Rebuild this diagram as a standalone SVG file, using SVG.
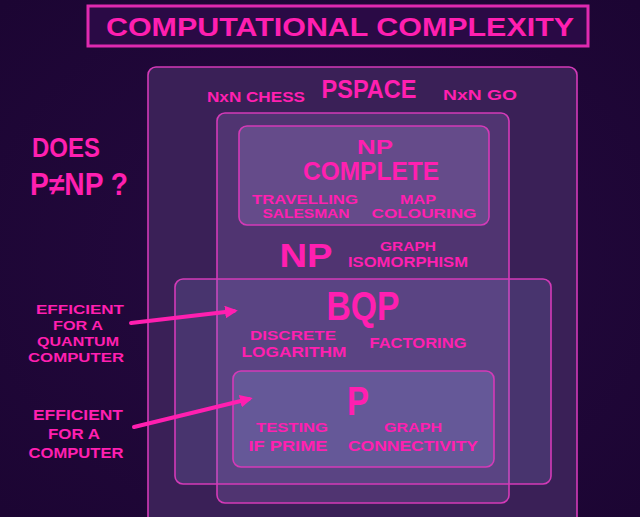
<svg xmlns="http://www.w3.org/2000/svg" width="640" height="517" viewBox="0 0 640 517">
<defs>
<style>
.t{font-family:"Liberation Sans","DejaVu Sans",sans-serif;font-weight:bold;fill:#ff1fb0;text-anchor:middle}
.box{stroke:#d43ab8;stroke-width:1.6}
.arrow{stroke:#ff1fb0;stroke-width:4;fill:none;stroke-linecap:round}
</style>
<marker id="ah" viewBox="0 0 10 10" refX="7" refY="5" markerWidth="3.2" markerHeight="3.2" orient="auto"><path d="M0,0 L10,5 L0,10 z" fill="#ff1fb0"/></marker>
<radialGradient id="bg" cx="0.5" cy="0.5" r="0.7"><stop offset="0" stop-color="#250a40"/><stop offset="1" stop-color="#1c0533"/></radialGradient>
</defs>
<rect width="640" height="517" fill="url(#bg)"/>

<g id="title">
<rect x="88" y="6" width="500" height="40" fill="#2a0a45" stroke="#e02ab0" stroke-width="3"/>
<text class="t" x="340" y="36" font-size="25" textLength="468" lengthAdjust="spacingAndGlyphs">COMPUTATIONAL COMPLEXITY</text>
</g>

<g id="pspace">
<rect class="box" x="148" y="67" width="429" height="470" rx="8" fill="#3a2057"/>
<text class="t" x="256" y="102" font-size="15" textLength="98" lengthAdjust="spacingAndGlyphs">NxN CHESS</text>
<text class="t" x="369" y="98" font-size="26" textLength="95" lengthAdjust="spacingAndGlyphs">PSPACE</text>
<text class="t" x="480" y="100" font-size="15" textLength="74" lengthAdjust="spacingAndGlyphs">NxN GO</text>
</g>

<g id="np">
<rect class="box" x="217" y="113" width="292" height="390" rx="8" fill="#aa88dd" fill-opacity="0.2"/>
<text class="t" x="306" y="267" font-size="33" textLength="53" lengthAdjust="spacingAndGlyphs">NP</text>
<text class="t" x="408" y="251" font-size="13" textLength="56" lengthAdjust="spacingAndGlyphs">GRAPH</text>
<text class="t" x="408" y="267" font-size="14" textLength="120" lengthAdjust="spacingAndGlyphs">ISOMORPHISM</text>
</g>

<g id="np-complete">
<rect class="box" x="239" y="126" width="250" height="99" rx="8" fill="#b8a8ee" fill-opacity="0.2"/>
<text class="t" x="375" y="154" font-size="20" textLength="36" lengthAdjust="spacingAndGlyphs">NP</text>
<text class="t" x="371" y="180" font-size="25" textLength="136" lengthAdjust="spacingAndGlyphs">COMPLETE</text>
<text class="t" x="305" y="204" font-size="12" textLength="106" lengthAdjust="spacingAndGlyphs">TRAVELLING</text>
<text class="t" x="306" y="218" font-size="12" textLength="87" lengthAdjust="spacingAndGlyphs">SALESMAN</text>
<text class="t" x="418" y="204" font-size="12" textLength="36" lengthAdjust="spacingAndGlyphs">MAP</text>
<text class="t" x="424" y="218" font-size="12" textLength="105" lengthAdjust="spacingAndGlyphs">COLOURING</text>
</g>

<g id="bqp">
<rect class="box" x="175" y="279" width="376" height="205" rx="8" fill="#8a90d8" fill-opacity="0.18"/>
<text class="t" x="363" y="320" font-size="40" textLength="73" lengthAdjust="spacingAndGlyphs">BQP</text>
<text class="t" x="293" y="340" font-size="13" textLength="86" lengthAdjust="spacingAndGlyphs">DISCRETE</text>
<text class="t" x="294" y="357" font-size="14" textLength="105" lengthAdjust="spacingAndGlyphs">LOGARITHM</text>
<text class="t" x="418" y="348" font-size="15" textLength="97" lengthAdjust="spacingAndGlyphs">FACTORING</text>
</g>

<g id="p">
<rect class="box" x="233" y="371" width="261" height="96" rx="8" fill="#90a8ee" fill-opacity="0.2"/>
<text class="t" x="358" y="415" font-size="40" textLength="22" lengthAdjust="spacingAndGlyphs">P</text>
<text class="t" x="292" y="432" font-size="13" textLength="72" lengthAdjust="spacingAndGlyphs">TESTING</text>
<text class="t" x="288" y="451" font-size="15" textLength="79" lengthAdjust="spacingAndGlyphs">IF PRIME</text>
<text class="t" x="413" y="432" font-size="13" textLength="58" lengthAdjust="spacingAndGlyphs">GRAPH</text>
<text class="t" x="413" y="451" font-size="15" textLength="130" lengthAdjust="spacingAndGlyphs">CONNECTIVITY</text>
</g>

<g id="question">
<text class="t" x="66" y="157" font-size="28" textLength="68" lengthAdjust="spacingAndGlyphs">DOES</text>
<text class="t" x="79" y="195" font-size="31" textLength="98" lengthAdjust="spacingAndGlyphs">P≠NP ?</text>
</g>

<g id="label-quantum">
<text class="t" x="80" y="314" font-size="13" textLength="88" lengthAdjust="spacingAndGlyphs">EFFICIENT</text>
<text class="t" x="78" y="330" font-size="13" textLength="50" lengthAdjust="spacingAndGlyphs">FOR A</text>
<text class="t" x="78" y="346" font-size="13" textLength="82" lengthAdjust="spacingAndGlyphs">QUANTUM</text>
<text class="t" x="76" y="362" font-size="13" textLength="96" lengthAdjust="spacingAndGlyphs">COMPUTER</text>
</g>

<g id="label-classical">
<text class="t" x="78" y="420" font-size="15" textLength="90" lengthAdjust="spacingAndGlyphs">EFFICIENT</text>
<text class="t" x="74" y="439" font-size="15" textLength="52" lengthAdjust="spacingAndGlyphs">FOR A</text>
<text class="t" x="76" y="458" font-size="15" textLength="95" lengthAdjust="spacingAndGlyphs">COMPUTER</text>
</g>

<g id="connectors">
<line class="arrow" x1="131" y1="323" x2="234" y2="311" marker-end="url(#ah)"/>
<line class="arrow" x1="134" y1="427" x2="249" y2="399" marker-end="url(#ah)"/>
</g>
</svg>
